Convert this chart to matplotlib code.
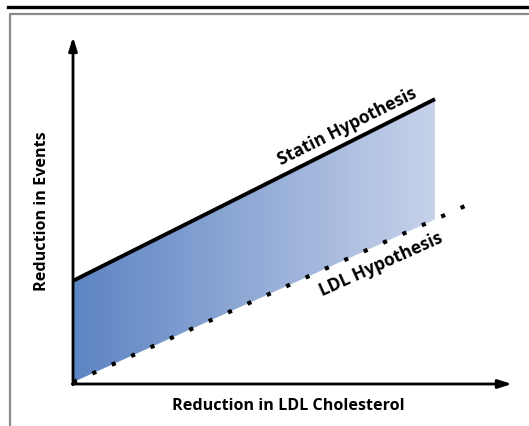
import numpy as np
import matplotlib
matplotlib.use("Agg")
import matplotlib.pyplot as plt
from matplotlib.colors import LinearSegmentedColormap

# ---- data (conceptual units) ----
statin_x = [0.0, 10.0]
statin_y = [2.85, 7.87]
ldl_x = [0.0, 10.9]
ldl_y = [0.05, 4.95]
fill_x_end = 10.0
x_label = "Reduction in LDL Cholesterol"
y_label = "Reduction in Events"
statin_label = "Statin Hypothesis"
ldl_label = "LDL Hypothesis"

W, H = 529, 427
DPI = 100
PX = 36.2  # px per unit
ox, oy = 73, 385  # origin in px (from top)

fig = plt.figure(figsize=(W / DPI, H / DPI), dpi=DPI)
ax = fig.add_axes([0, 0, 1, 1])
ax.set_xlim(-ox / PX, (W - ox) / PX)
ax.set_ylim(-(H - oy) / PX, oy / PX)
ax.axis("off")

FONT = ["Open Sans", "DejaVu Sans"]

# frame and top rule
fig.add_artist(plt.Line2D([8 / W, 1], [1 - 7.5 / H, 1 - 7.5 / H], color="black", lw=2.4))
fig.add_artist(plt.Line2D([9.5 / W, 9.5 / W, 1], [0, 1 - 14.5 / H, 1 - 14.5 / H],
                          color="#8c8c8c", lw=1.6))

# gradient fill between lines
xs = np.linspace(0, fill_x_end, 200)
top = np.interp(xs, statin_x, statin_y)
bot = np.interp(xs, ldl_x, ldl_y)
poly = ax.fill_between(xs, bot, top, color="none", lw=0)
cmap = LinearSegmentedColormap.from_list("g", ["#5d84c3", "#c7d2ea"])
grad = np.linspace(0, 1, 256).reshape(1, -1)
im = ax.imshow(grad, cmap=cmap, aspect="auto",
               extent=[0, fill_x_end, min(ldl_y), max(statin_y)],
               origin="lower", zorder=1)
path = poly.get_paths()[0]
im.set_clip_path(path, transform=ax.transData)

# lines
ax.plot(statin_x, statin_y, color="black", lw=2.8, solid_capstyle="butt", zorder=3)
ax.plot(ldl_x, ldl_y, color="black", lw=3.0, linestyle=(0, (1.0, 4.1)),
        dash_capstyle="butt", zorder=3)

# axes arrows
ymax = (oy - 38) / PX
xmax = (512 - ox) / PX
ax.annotate("", xy=(0, ymax), xytext=(0, -0.02),
            arrowprops=dict(arrowstyle="-|>,head_length=0.8,head_width=0.25",
                            color="black", lw=2.0, shrinkA=0, shrinkB=0), zorder=4)
ax.annotate("", xy=(xmax, 0), xytext=(-0.02, 0),
            arrowprops=dict(arrowstyle="-|>,head_length=0.8,head_width=0.25",
                            color="black", lw=2.0, shrinkA=0, shrinkB=0), zorder=4)

# labels
def px2d(px, py):
    return (px - ox) / PX, (oy - py) / PX

fig.text(288 / W, 1 - 406 / H, x_label, ha="center", va="center",
         fontsize=11.6, fontweight="bold", family=FONT)
fig.text(42 / W, 1 - 211 / H, y_label, ha="center", va="center", rotation=90,
         fontsize=11.6, fontweight="bold", family=FONT)

sx, sy = px2d(347, 127)
ax.text(sx, sy, statin_label, ha="center", va="center",
        rotation=np.degrees(np.arctan2(statin_y[1] - statin_y[0], statin_x[1] - statin_x[0])),
        rotation_mode="anchor", fontsize=12.5, fontweight="bold", family=FONT)
lx, ly = px2d(381, 264)
ax.text(lx, ly, ldl_label, ha="center", va="center",
        rotation=np.degrees(np.arctan2(ldl_y[1] - ldl_y[0], ldl_x[1] - ldl_x[0])),
        rotation_mode="anchor", fontsize=12.5, fontweight="bold", family=FONT)

fig.savefig("out.png", dpi=DPI)
